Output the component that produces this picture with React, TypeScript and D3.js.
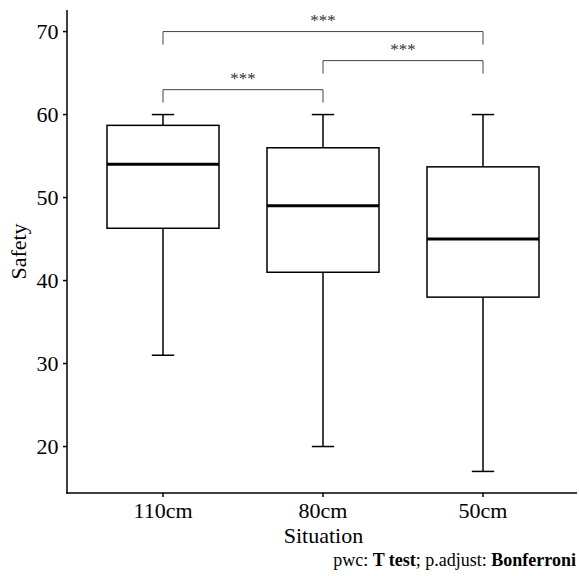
import React from "react";
import * as d3 from "d3";

const categories = ["110cm", "80cm", "50cm"];
const lowerWhisker = [31, 20, 17];
const q1 = [46.3, 41, 38];
const median = [54, 49, 45];
const q3 = [58.7, 56, 53.7];
const upperWhisker = [60, 60, 60];

const comparisons = [
  { from: "110cm", to: "80cm", y: 63, label: "***" },
  { from: "80cm", to: "50cm", y: 66.5, label: "***" },
  { from: "110cm", to: "50cm", y: 70, label: "***" },
];
const yTicks = [20, 30, 40, 50, 60, 70];

const W = 579;
const H = 576;
const left = 67;
const right = 579;
const top = 10;
const bottom = 493;
const font = "'Liberation Serif', 'Times New Roman', serif";

export default function App() {
  const x = d3.scalePoint<string>().domain(categories).range([left, right]).padding(0.6);
  const y = d3.scaleLinear().domain([14.4, 72.6]).range([bottom, top]);
  const step = x.step();
  const bw = step * 0.7;
  const cap = bw * 0.2;

  return (
    <svg width={W} height={H} style={{ position: "absolute", left: 0, top: 0, background: "#fff" }}>
      <rect width={W} height={H} fill="#fff" />
      {/* axes */}
      <line x1={left} x2={left} y1={top} y2={bottom + 0.75} stroke="#000" strokeWidth={1.5} />
      <line x1={left - 0.75} x2={577} y1={bottom} y2={bottom} stroke="#000" strokeWidth={1.5} />
      {yTicks.map((t) => (
        <g key={t}>
          <line x1={left - 4} x2={left} y1={y(t)} y2={y(t)} stroke="#000" strokeWidth={1.5} />
          <text x={left - 8.5} y={y(t)} dy="0.35em" textAnchor="end" fontFamily={font} fontSize={22} fill="#000">
            {t}
          </text>
        </g>
      ))}
      {categories.map((c) => (
        <g key={c}>
          <line x1={x(c)} x2={x(c)} y1={bottom} y2={bottom + 4} stroke="#000" strokeWidth={1.5} />
          <text x={x(c)} y={518.3} textAnchor="middle" fontFamily={font} fontSize={22} fill="#000">
            {c}
          </text>
        </g>
      ))}
      <text x={(left + right) / 2 + 0.5} y={543.3} textAnchor="middle" fontFamily={font} fontSize={22} fill="#000">
        Situation
      </text>
      <text
        transform={`translate(25.5, ${(top + bottom) / 2}) rotate(-90)`}
        textAnchor="middle"
        fontFamily={font}
        fontSize={22}
        fill="#000"
      >
        Safety
      </text>
      {/* boxes */}
      {categories.map((c, i) => {
        const cx = x(c)!;
        return (
          <g key={c} stroke="#000" fill="none">
            <line x1={cx} x2={cx} y1={y(upperWhisker[i])} y2={y(q3[i])} strokeWidth={1.5} />
            <line x1={cx} x2={cx} y1={y(q1[i])} y2={y(lowerWhisker[i])} strokeWidth={1.5} />
            <line x1={cx - cap / 2} x2={cx + cap / 2} y1={y(upperWhisker[i])} y2={y(upperWhisker[i])} strokeWidth={1.5} />
            <line x1={cx - cap / 2} x2={cx + cap / 2} y1={y(lowerWhisker[i])} y2={y(lowerWhisker[i])} strokeWidth={1.5} />
            <rect x={cx - bw / 2} y={y(q3[i])} width={bw} height={y(q1[i]) - y(q3[i])} fill="#fff" strokeWidth={1.5} />
            <line x1={cx - bw / 2} x2={cx + bw / 2} y1={y(median[i])} y2={y(median[i])} strokeWidth={3} />
          </g>
        );
      })}
      {/* brackets */}
      {comparisons.map((cmp, i) => {
        const x1 = x(cmp.from)!;
        const x2 = x(cmp.to)!;
        const yy = y(cmp.y);
        const tip = 13;
        return (
          <g key={i}>
            <path
              d={`M${x1},${yy + tip}V${yy}H${x2}V${yy + tip}`}
              fill="none"
              stroke="#444"
              strokeWidth={1}
            />
            <text x={(x1 + x2) / 2} y={yy - 5.5} textAnchor="middle" fontFamily={font} fontSize={17} fill="#333">
              {cmp.label}
            </text>
          </g>
        );
      })}
      {/* caption */}
      <text x={576} y={566} textAnchor="end" fontFamily={font} fontSize={18} fill="#000">
        <tspan>pwc: </tspan>
        <tspan fontWeight="bold">T test</tspan>
        <tspan>; p.adjust: </tspan>
        <tspan fontWeight="bold">Bonferroni</tspan>
      </text>
    </svg>
  );
}
